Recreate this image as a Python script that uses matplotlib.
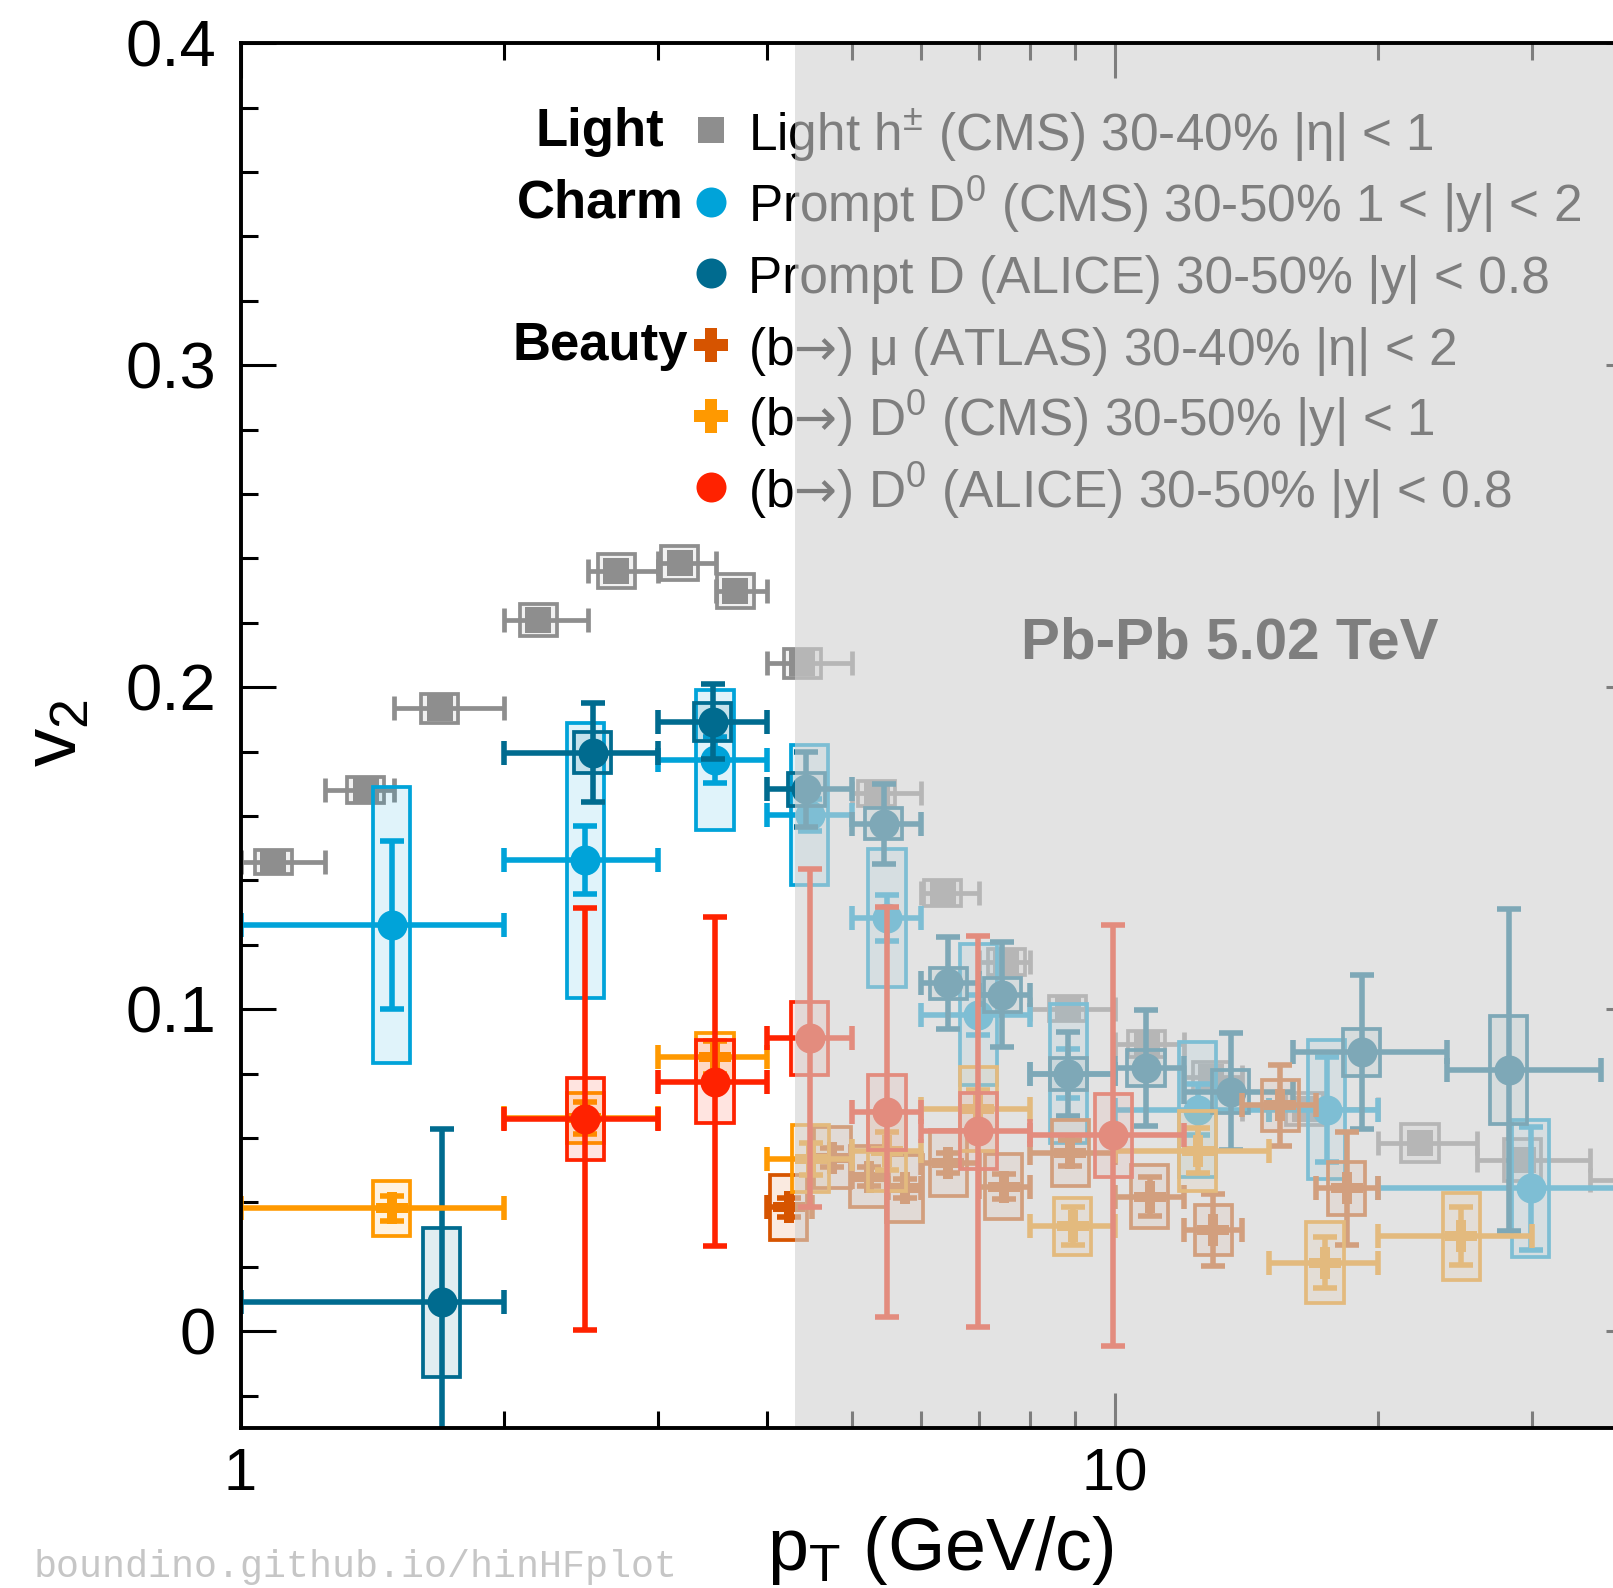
import numpy as np
import matplotlib.pyplot as plt
from matplotlib.colors import to_rgba

plt.rcParams['font.family'] = ['Liberation Sans', 'DejaVu Sans']
plt.rcParams['mathtext.fontset'] = 'custom'
plt.rcParams['mathtext.rm'] = 'Liberation Sans'
plt.rcParams['mathtext.it'] = 'Liberation Sans:italic'
plt.rcParams['mathtext.bf'] = 'Liberation Sans:bold'
plt.rcParams['mathtext.sf'] = 'DejaVu Sans'
plt.rcParams['mathtext.default'] = 'regular'

# ---- data ----
# Light h+- (CMS) 30-40% |eta|<1
h_pt   = [1.09, 1.39, 1.69, 2.19, 2.69, 3.18, 3.68, 4.39, 5.34, 6.36, 7.52, 8.84, 10.88, 12.9, 16.5, 22.35, 29.3, 39.5]
h_lo   = [1.0, 1.25, 1.5, 2.0, 2.5, 3.0, 3.5, 4.0, 5.0, 6.0, 7.0, 8.0, 10.0, 12.0, 14.0, 20.0, 26.0, 35.0]
h_hi   = [1.25, 1.5, 2.0, 2.5, 3.0, 3.5, 4.0, 5.0, 6.0, 7.0, 8.0, 10.0, 12.0, 14.0, 20.0, 26.0, 35.0, 45.0]
h_v2   = [0.1458, 0.1681, 0.1934, 0.2209, 0.2361, 0.2387, 0.2299, 0.2074, 0.167, 0.136, 0.1147, 0.1002,
          0.0892, 0.079, 0.069, 0.0584, 0.0531, 0.047]
h_stat = [0.001, 0.001, 0.001, 0.001, 0.001, 0.001, 0.001, 0.001, 0.001, 0.001, 0.001, 0.001,
          0.001, 0.002, 0.002, 0.003, 0.003, 0.004]
h_syst = [0.0037, 0.004, 0.0044, 0.0049, 0.0053, 0.0053, 0.0052, 0.0045, 0.004, 0.004, 0.004, 0.004,
          0.004, 0.0045, 0.005, 0.006, 0.0065, 0.007]

# Prompt D0 (CMS) 30-50% 1<|y|<2
dc_pt   = [1.49, 2.48, 3.49, 4.48, 5.49, 6.98, 8.85, 12.45, 17.48, 29.9]
dc_lo   = [1, 2, 3, 4, 5, 6, 8, 10, 15, 20]
dc_hi   = [2, 3, 4, 5, 6, 8, 10, 15, 20, 40]
dc_v2   = [0.1261, 0.1463, 0.1774, 0.1603, 0.1284, 0.0983, 0.080, 0.0688, 0.0688, 0.0443]
dc_stat = [0.026, 0.0105, 0.007, 0.005, 0.0071, 0.0062, 0.0077, 0.008, 0.0163, 0.019]
dc_syst = [0.0428, 0.0427, 0.0217, 0.0218, 0.0215, 0.022, 0.0215, 0.021, 0.0215, 0.0214]

# Prompt D (ALICE) 30-50% |y|<0.8
da_pt   = [1.70, 2.53, 3.47, 4.44, 5.44, 6.45, 7.44, 8.85, 10.86, 13.57, 19.16, 28.25]
da_lo   = [1, 2, 3, 4, 5, 6, 7, 8, 10, 12, 16, 24]
da_hi   = [2, 3, 4, 5, 6, 7, 8, 10, 12, 16, 24, 36]
da_v2   = [0.0089, 0.1797, 0.1893, 0.1683, 0.1576, 0.1081, 0.1045, 0.0799, 0.0817, 0.0744, 0.0866, 0.0811]
da_stat = [0.054, 0.0155, 0.0116, 0.0117, 0.0124, 0.0143, 0.0163, 0.0131, 0.0179, 0.0182, 0.0239, 0.050]
da_syst = [0.023, 0.0063, 0.0059, 0.0052, 0.0049, 0.0048, 0.0053, 0.0049, 0.0056, 0.0066, 0.0073, 0.0167]

# (b->) mu (ATLAS) 30-40% |eta|<2
mu_pt   = [4.24, 4.75, 5.23, 5.75, 6.45, 7.47, 8.9, 10.97, 12.96, 15.46, 18.42]
mu_lo   = [4.0, 4.5, 5.0, 5.5, 6, 7, 8, 10, 12, 14, 17]
mu_hi   = [4.5, 5.0, 5.5, 6.0, 7, 8, 10, 12, 14, 17, 20]
mu_v2   = [0.0384, 0.0539, 0.048, 0.0443, 0.0522, 0.0449, 0.0553, 0.0418, 0.0314, 0.0701, 0.0443]
mu_stat = [0.003, 0.003, 0.003, 0.003, 0.003, 0.004, 0.004, 0.006, 0.0113, 0.0125, 0.0175]
mu_syst = [0.0101, 0.0095, 0.0095, 0.0105, 0.0102, 0.0102, 0.0102, 0.0097, 0.0077, 0.0078, 0.0081]

# (b->) D0 (CMS) 30-50% |y|<1
bc_pt   = [1.49, 2.48, 3.49, 4.49, 5.49, 6.98, 8.95, 12.45, 17.4, 24.9]
bc_lo   = [1, 2, 3, 4, 5, 6, 8, 10, 15, 20]
bc_hi   = [2, 3, 4, 5, 6, 8, 10, 15, 20, 30]
bc_v2   = [0.0381, 0.0663, 0.085, 0.0535, 0.0559, 0.069, 0.0326, 0.056, 0.0213, 0.0295]
bc_stat = [0.004, 0.005, 0.005, 0.005, 0.006, 0.006, 0.006, 0.007, 0.008, 0.009]
bc_syst = [0.0085, 0.0078, 0.0077, 0.0104, 0.0125, 0.013, 0.0089, 0.0125, 0.0125, 0.0135]

# (b->) D0 (ALICE) 30-50% |y|<0.8
ba_pt   = [2.48, 3.49, 4.48, 5.49, 6.98, 9.96]
ba_lo   = [2, 3, 4, 5, 6, 8]
ba_hi   = [3, 4, 5, 6, 8, 12]
ba_v2   = [0.0658, 0.0775, 0.0909, 0.068, 0.0621, 0.0608]
ba_stat = [0.0655, 0.051, 0.0525, 0.0636, 0.0607, 0.0654]
ba_syst = [0.0128, 0.0128, 0.0114, 0.0117, 0.0119, 0.0129]

legend_labels = [r'Light h$^{\pm}$ (CMS) 30-40% |η| < 1',
                 r'Prompt D$^{0}$ (CMS) 30-50% 1 < |y| < 2',
                 r'Prompt D (ALICE) 30-50% |y| < 0.8',
                 r'(b$\mathsf{→}$) μ (ATLAS) 30-40% |η| < 2',
                 r'(b$\mathsf{→}$) D$^{0}$ (CMS) 30-50% |y| < 1',
                 r'(b$\mathsf{→}$) D$^{0}$ (ALICE) 30-50% |y| < 0.8']
group_labels = {0: 'Light', 1: 'Charm', 3: 'Beauty'}

# ---- figure ----
W, H = 1613, 1588
fig = plt.figure(figsize=(W / 100, H / 100), dpi=100)
# right edge of the frame (x = 40) lies just outside the picture
L, R, T, B = 240.5, 1641.0, 43.3, 1427.7
ax = fig.add_axes([L / W, 1 - B / H, (R - L) / W, (B - T) / H])
ax.set_xscale('log')


def axpos(xp, yp):
    # figure pixel -> axes fraction
    return (xp - L) / (R - L), (B - yp) / (B - T)


k = 10 ** 0.0212  # half width of the syst boxes (log)


def draw(pt, lo, hi, v2, stat, syst, color, marker, ms, z, elw=4.0):
    pt, lo, hi = np.array(pt), np.array(lo), np.array(hi)
    v2, stat, syst = np.array(v2), np.array(stat), np.array(syst)
    ax.bar(pt / k, 2 * syst, width=pt * k - pt / k, bottom=v2 - syst, align='edge',
           facecolor=to_rgba(color, 0.12), edgecolor=color, linewidth=2.7, zorder=z)
    eb = ax.errorbar(pt, v2, yerr=stat, xerr=[pt - lo, hi - pt], fmt=marker, color=color,
                     ms=ms, elinewidth=elw, capsize=8.3, capthick=elw, zorder=z + 0.5)
    eb[0].set_markeredgewidth(0)


c_h, c_dc, c_da = '#8e8e8e', '#00a3d9', '#006b8f'
c_mu, c_bc, c_ba = '#d65400', '#ff9900', '#ff2200'

draw(h_pt, h_lo, h_hi, h_v2, h_stat, h_syst, c_h, 's', 19.4, 3, elw=3.4)
draw(dc_pt, dc_lo, dc_hi, dc_v2, dc_stat, dc_syst, c_dc, 'o', 21.6, 4)
draw(da_pt, da_lo, da_hi, da_v2, da_stat, da_syst, c_da, 'o', 21.6, 5)
draw(mu_pt, mu_lo, mu_hi, mu_v2, mu_stat, mu_syst, c_mu, 'P', 23, 6)
draw(bc_pt, bc_lo, bc_hi, bc_v2, bc_stat, bc_syst, c_bc, 'P', 23, 7)
draw(ba_pt, ba_lo, ba_hi, ba_v2, ba_stat, ba_syst, c_ba, 'o', 21.6, 8)

# grey band over the high-pT part
ax.axvspan(4.31, 40, color='#d1d1d1', alpha=0.608, lw=0, zorder=50)

# legend
colors = [c_h, c_dc, c_da, c_mu, c_bc, c_ba]
markers = ['s', 'o', 'o', 'P', 'P', 'o']
msizes = [19, 21.6, 21.6, 24, 24, 21.6]
for i, lab in enumerate(legend_labels):
    yb = 150.7 + 71.4 * i
    ax.text(*axpos(748.4, yb), lab, transform=ax.transAxes, fontsize=37,
            ha='left', va='baseline', zorder=10)
    mx, my = axpos(710.5, yb - 20.3)
    ax.plot([mx], [my], transform=ax.transAxes, marker=markers[i], color=colors[i],
            ms=msizes[i], mew=0, ls='none', clip_on=False, zorder=60)
    if i in group_labels:
        ax.text(*axpos(600, yb - 4.5), group_labels[i], transform=ax.transAxes,
                fontsize=38, fontweight='bold', ha='center', va='baseline', zorder=60)

ax.text(*axpos(1230, 658), 'Pb-Pb 5.02 TeV', transform=ax.transAxes, fontsize=42,
        fontweight='bold', ha='center', va='baseline', zorder=10)

# axes cosmetics
ax.set_xlim(1, 40)
ax.set_ylim(-0.03, 0.4)
ax.set_xticks([1, 10])
ax.set_xticklabels(['1', '10'])
ax.set_xticks([2, 3, 4, 5, 6, 7, 8, 9, 20, 30], minor=True)
ax.xaxis.set_minor_formatter(plt.NullFormatter())
ax.set_yticks([0, 0.1, 0.2, 0.3, 0.4])
ax.set_yticklabels(['0', '0.1', '0.2', '0.3', '0.4'])
ax.set_yticks(np.arange(-0.02, 0.4, 0.02), minor=True)
ax.tick_params(which='both', direction='in', top=True, right=True, width=2.2, color='black')
ax.tick_params(which='major', length=25)
ax.tick_params(which='minor', length=12.5)
ax.tick_params(axis='x', which='major', labelsize=43, pad=14)
ax.tick_params(axis='y', which='major', labelsize=47, pad=17.6)
for s in ax.spines.values():
    s.set_linewidth(2.8)
    s.set_zorder(100)

ax.set_xlabel(r'p$_{T}$ (GeV/c)', fontsize=53)
ax.xaxis.set_label_coords(axpos(940, 0)[0], axpos(0, 1570)[1])
ax.xaxis.label.set_va('baseline')
ax.set_ylabel(r'v$_{2}$', fontsize=55)
ax.yaxis.set_label_coords(axpos(57, 0)[0], axpos(0, 733)[1])
ax.yaxis.label.set_va('center')

fig.text(34 / W, 1 - 1567 / H, 'boundino.github.io/hinHFplot', family='Liberation Mono',
         fontsize=27.6, color='#c6c6c6', va='center', ha='left')

fig.savefig('out.png', dpi=100)
